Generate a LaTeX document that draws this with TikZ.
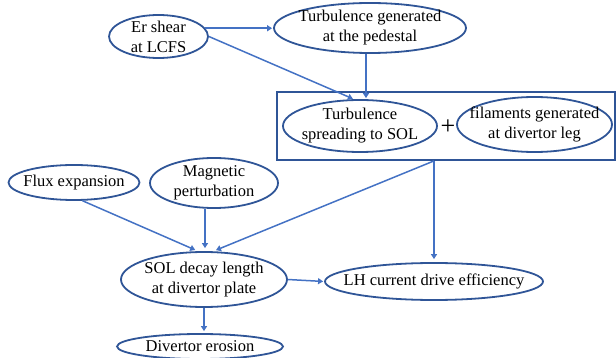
\documentclass[tikz,border=0pt]{standalone}
\usepackage{fontspec}
\setmainfont{Liberation Serif}
\usetikzlibrary{shapes.geometric,arrows.meta}
\definecolor{edge}{HTML}{2F5597}
\definecolor{arrowc}{HTML}{4472C4}
\tikzset{
  ell/.style={ellipse, draw=edge, line width=1.8pt, inner sep=0pt},
  txt/.style={align=center, inner sep=0pt, font=\fontsize{16.5}{20}\selectfont},
  arr/.style={draw=arrowc, line width=1.5pt, -{Triangle[length=5pt,width=6pt]}, shorten >=1pt},
}
\begin{document}
\begin{tikzpicture}[x=1pt,y=-1pt]
\useasboundingbox (0,0) rectangle (616,358);
\node[ell, minimum width=99, minimum height=43, label={[txt]center:Er shear\\at LCFS}] (er) at (158.5,36.5) {};
\node[ell, minimum width=192, minimum height=50, label={[txt]center:Turbulence generated\\at the pedestal}] (tg) at (370,28) {};
\node[draw=edge, line width=1.8pt, minimum width=338, minimum height=68, inner sep=0pt] (box) at (446,126) {};
\node[ell, minimum width=154, minimum height=52, label={[txt]center:Turbulence\\spreading to SOL}] (ts) at (360,126) {};
\node[font=\fontsize{26}{26}\selectfont, inner sep=0pt] (plus) at (448,127) {+};
\node[ell, minimum width=155, minimum height=55, label={[txt]center:filaments generated\\at divertor leg}] (fil) at (534.5,124.5) {};
\node[ell, minimum width=131, minimum height=35, label={[txt]center:Flux expansion}] (flux) at (74,182.5) {};
\node[ell, minimum width=128, minimum height=50, label={[txt]center:Magnetic\\perturbation}] (mag) at (214,183) {};
\node[ell, minimum width=166, minimum height=55, label={[txt]center:SOL decay length\\at divertor plate}] (sol) at (204,279.5) {};
\node[ell, minimum width=218, minimum height=37, label={[txt]center:LH current drive efficiency}] (lh) at (434,281.5) {};
\node[ell, minimum width=166, minimum height=25, label={[txt]center:Divertor erosion}] (de) at (200,346.5) {};

\draw[arr] (er.10) -- (er.10 -| tg.west);
\draw[arr] (er.east) -- (ts.103);
\draw[arr] ([xshift=-4pt]tg.south) -- ([xshift=-4pt]tg.south |- ts.north);
\draw[arr, shorten >=3pt] (flux.-65) -- (sol.102);
\draw[arr, shorten >=3pt] ([xshift=-9pt]mag.south) -- ([xshift=-9pt]mag.south |- sol.north);
\draw[arr, shorten >=3pt] ([xshift=-12pt]box.south) -- (sol.72);
\draw[arr, shorten >=3pt] ([xshift=-12pt]box.south) -- (lh.north);
\draw[arr] (sol.east) -- (lh.west);
\draw[arr, shorten >=2pt] (sol.south) -- (sol.south |- de.north);
\end{tikzpicture}
\end{document}
